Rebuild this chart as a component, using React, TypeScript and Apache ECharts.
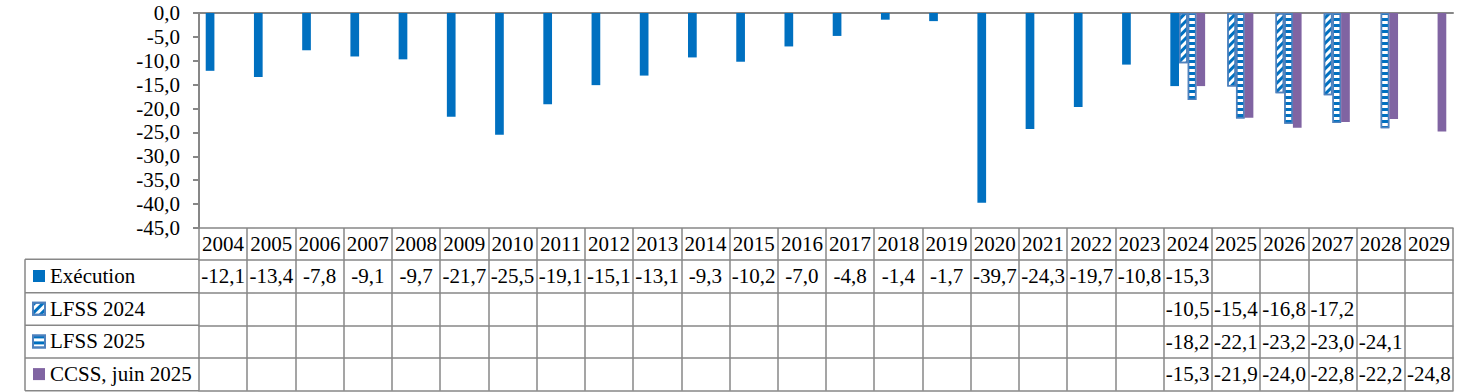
import React, { useEffect, useRef } from "react";
import * as echarts from "echarts";

const years = ["2004","2005","2006","2007","2008","2009","2010","2011","2012","2013","2014","2015","2016","2017","2018","2019","2020","2021","2022","2023","2024","2025","2026","2027","2028","2029"];
const execution: (number | null)[] = [-12.1,-13.4,-7.8,-9.1,-9.7,-21.7,-25.5,-19.1,-15.1,-13.1,-9.3,-10.2,-7.0,-4.8,-1.4,-1.7,-39.7,-24.3,-19.7,-10.8,-15.3,null,null,null,null,null];
const lfss2024: (number | null)[] = [null,null,null,null,null,null,null,null,null,null,null,null,null,null,null,null,null,null,null,null,-10.5,-15.4,-16.8,-17.2,null,null];
const lfss2025: (number | null)[] = [null,null,null,null,null,null,null,null,null,null,null,null,null,null,null,null,null,null,null,null,-18.2,-22.1,-23.2,-23.0,-24.1,null];
const ccss: (number | null)[] = [null,null,null,null,null,null,null,null,null,null,null,null,null,null,null,null,null,null,null,null,-15.3,-21.9,-24.0,-22.8,-22.2,-24.8];
const seriesNames = ["Exécution", "LFSS 2024", "LFSS 2025", "CCSS, juin 2025"];
const seriesData = [execution, lfss2024, lfss2025, ccss];
const yMin = -45;
const yMax = 0;
const yInterval = 5;

const FONT = "'Liberation Serif', 'DejaVu Serif', serif";
const GREY = "#878787";
const BLUE = "#0070C0";
const PURPLE = "#8064A2";
const BORDER_BLUE = "#4F81BD";

const GRID_LEFT = 199;
const GRID_RIGHT = 23;
const GRID_TOP = 13;
const GRID_BOTTOM_Y = 228;
const TABLE_LEFT = 25;
const rowOffsets = [0, 31.3, 64.7, 97.3, 130, 162.7];

const fmt = (v: number | null | undefined) =>
  v === null || v === undefined ? "" : v.toFixed(1).replace(".", ",");

export default function App() {
  const ref = useRef<HTMLDivElement>(null);
  useEffect(() => {
    if (!ref.current) return;
    const chart = echarts.init(ref.current, undefined, { renderer: "svg" });

    const rowAxis = (i: number, labels: ((idx: number) => string) | null, tickLen: number) => ({
      type: "category",
      data: years,
      position: "bottom",
      offset: rowOffsets[i],
      gridIndex: 0,
      boundaryGap: true,
      axisLine: { show: true, onZero: false, lineStyle: { color: GREY, width: 1.5 } },
      axisTick: { show: tickLen > 0, length: tickLen, interval: 0, lineStyle: { color: GREY, width: 1.5 } },
      axisLabel: labels
        ? {
            show: true,
            interval: 0,
            margin: tickLen / 2,
            verticalAlign: "middle",
            fontFamily: FONT,
            fontSize: 21,
            color: "#000",
            formatter: (_v: string, idx: number) => labels(idx),
          }
        : { show: false },
      splitLine: { show: false },
    });

    const xAxes: any[] = [
      {
        type: "category",
        data: years,
        position: "bottom",
        axisLine: { show: true, onZero: true, lineStyle: { color: GREY, width: 2 } },
        axisTick: { show: false },
        axisLabel: { show: false },
      },
      rowAxis(0, (idx) => years[idx], rowOffsets[1] - rowOffsets[0]),
    ];
    for (let s = 0; s < 4; s++) {
      xAxes.push(rowAxis(s + 1, (idx) => fmt(seriesData[s][idx]), rowOffsets[s + 2] - rowOffsets[s + 1]));
    }
    xAxes.push(rowAxis(5, null, 0));

    const graphics: any[] = [];
    for (let i = 1; i < rowOffsets.length; i++) {
      const y = GRID_BOTTOM_Y + rowOffsets[i];
      graphics.push({
        type: "line",
        shape: { x1: TABLE_LEFT, y1: y, x2: GRID_LEFT, y2: y },
        style: { stroke: GREY, lineWidth: 1.5 },
      });
    }
    graphics.push({
      type: "line",
      shape: {
        x1: TABLE_LEFT,
        y1: GRID_BOTTOM_Y + rowOffsets[1],
        x2: TABLE_LEFT,
        y2: GRID_BOTTOM_Y + rowOffsets[rowOffsets.length - 1],
      },
      style: { stroke: GREY, lineWidth: 1.5 },
    });

    const styles: any[] = [
      { color: BLUE },
      {
        color: "#fff",
        borderColor: BORDER_BLUE,
        borderWidth: 1.5,
        decal: {
          symbol: "rect",
          symbolSize: 1,
          dashArrayX: [1, 0],
          dashArrayY: [2.5, 3],
          rotation: -Math.PI / 4,
          color: BLUE,
          backgroundColor: "#fff",
        },
      },
      {
        color: "#fff",
        borderColor: BORDER_BLUE,
        borderWidth: 1.5,
        decal: {
          symbol: "rect",
          symbolSize: 1,
          dashArrayX: [1, 0],
          dashArrayY: [3, 3],
          rotation: 0,
          color: BLUE,
          backgroundColor: "#fff",
        },
      },
      { color: PURPLE },
    ];

    chart.setOption({
      animation: false,
      textStyle: { fontFamily: FONT },
      grid: {
        left: GRID_LEFT,
        right: GRID_RIGHT,
        top: GRID_TOP,
        height: GRID_BOTTOM_Y - GRID_TOP,
        containLabel: false,
      },
      legend: {
        orient: "vertical",
        left: 32,
        top: 264,
        padding: 0,
        itemWidth: 12,
        itemHeight: 12,
        itemGap: 8.7,
        icon: "rect",
        textStyle: { fontFamily: FONT, fontSize: 21, color: "#000", lineHeight: 24 },
        data: seriesNames,
      },
      xAxis: xAxes,
      yAxis: {
        type: "value",
        min: yMin,
        max: yMax,
        interval: yInterval,
        axisLine: { show: true, lineStyle: { color: GREY, width: 2 } },
        axisTick: { show: true, length: 6, lineStyle: { color: GREY, width: 2 } },
        axisLabel: {
          margin: 19,
          fontFamily: FONT,
          fontSize: 21,
          color: "#000",
          formatter: (v: number) => fmt(v),
        },
        splitLine: { show: false },
      },
      series: seriesNames.map((name, i) => ({
        name,
        type: "bar",
        xAxisIndex: 0,
        data: seriesData[i],
        barWidth: 8.7,
        barGap: "0%",
        itemStyle: styles[i],
      })),
      graphic: graphics,
    });
    return () => chart.dispose();
  }, []);
  return (
    <div
      ref={ref}
      style={{ position: "absolute", left: 0, top: 0, width: 1476, height: 392 }}
    />
  );
}
